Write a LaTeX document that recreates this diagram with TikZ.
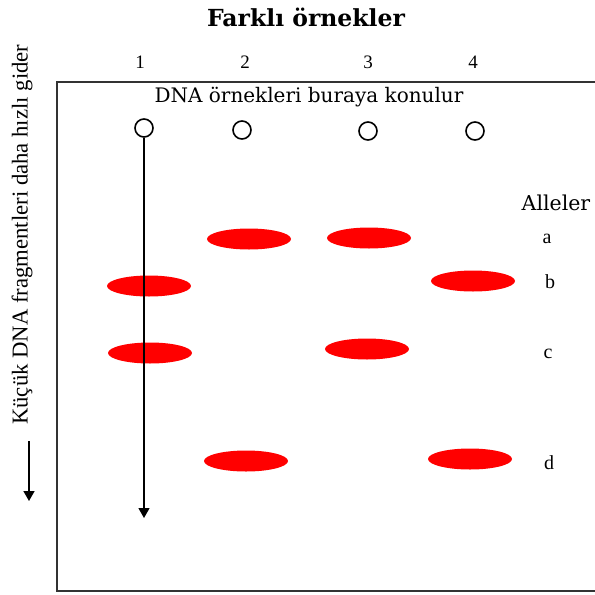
\documentclass[tikz,border=0pt]{standalone}
\usepackage{fontspec}
\setmainfont{Liberation Serif}
\newfontfamily\widefont{DejaVu Serif}
\usetikzlibrary{shapes.geometric,arrows.meta}
\begin{document}
\begin{tikzpicture}[x=1pt,y=-1pt,
  band/.style={ellipse,fill=red,draw=none,minimum width=84pt,minimum height=21pt,inner sep=0pt},
  well/.style={circle,draw=black,line width=1.6pt,minimum size=18pt,inner sep=0pt},
  lbl/.style={font=\fontsize{20}{20}\selectfont,inner sep=0pt},
  num/.style={font=\fontsize{19}{19}\selectfont,inner sep=0pt}]
\useasboundingbox (0,0) rectangle (595,595);
\fill[white] (0,0) rectangle (595,595);
% gel box
\draw[line width=2.4pt,draw=black!80] (57,82) rectangle (640,591);
% title
\node[inner sep=0pt,font=\widefont\bfseries\fontsize{23.5}{23.5}\selectfont] (title) at (306,17) {Farklı örnekler};
% lane numbers
\node[num] (n1) at (140,62) {1};
\node[num] (n2) at (245,62) {2};
\node[num] (n3) at (368,62) {3};
\node[num] (n4) at (473,62) {4};
\node[inner sep=0pt,font=\widefont\fontsize{20}{20}\selectfont] (load) at (309,97) {DNA örnekleri buraya konulur};
% wells
\node[well] (w1) at (144,128) {};
\node[well] (w2) at (242,130) {};
\node[well] (w3) at (368,131) {};
\node[well] (w4) at (475,131) {};
% bands
\node[band] (b1b) at (149,286) {};
\node[band] (b1c) at (150,353) {};
\node[band] (b2a) at (249,239) {};
\node[band] (b2d) at (246,461) {};
\node[band] (b3a) at (369,238) {};
\node[band] (b3c) at (367,349) {};
\node[band] (b4b) at (473,281) {};
\node[band] (b4d) at (470,459) {};
% migration arrow
\coordinate (aend) at (144,518);
\draw[line width=1.3pt,-{Triangle[width=11pt,length=10pt]}] (w1.south) -- (aend);
% allele labels
\node[inner sep=0pt,font=\widefont\fontsize{20.5}{20.5}\selectfont] (al) at (556,203) {Alleler};
\node[lbl] (la) at (547,239) {a};
\node[lbl] (lb) at (550,282) {b};
\node[lbl] (lc) at (548,354) {c};
\node[lbl] (ld) at (549,463) {d};
% left side
\node[lbl,rotate=90,anchor=west,font=\fontsize{22.7}{22.7}\selectfont] (side) at (22,425) {Küçük DNA fragmentleri daha hızlı gider};
\coordinate (ls) at (29,441);
\coordinate (le) at (29,501);
\draw[line width=1.6pt,-{Triangle[width=11pt,length=10pt]}] (ls) -- (le);
\end{tikzpicture}
\end{document}
